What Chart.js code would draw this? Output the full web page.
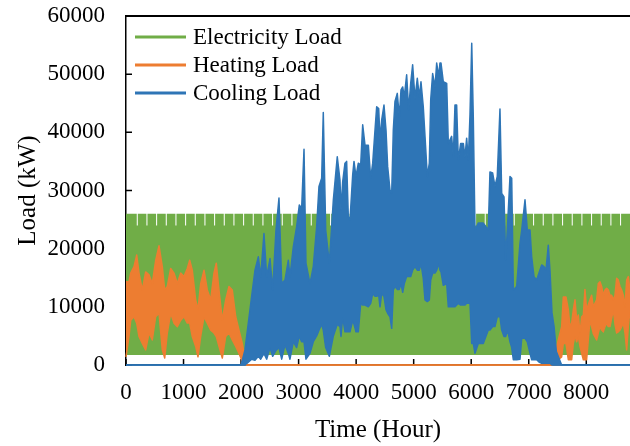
<!DOCTYPE html>
<html>
<head>
<meta charset="utf-8">
<script src="https://cdn.jsdelivr.net/npm/chart.js@4"></script>
<style>
  html, body { margin: 0; padding: 0; background: #fff; }
  #wrap { width: 630px; height: 446px; }
</style>
</head>
<body>
<div id="wrap"><canvas id="c" width="630" height="446"></canvas></div>
<script>
// Hourly building loads over one year (kW), given as daily high / low envelopes.

// Electricity: weekday peak, weekend peak, night base, and the weekend hours.
const elecPeak = 26000;
const elecWeekendPeak = 24000;
const elecBase = 1700;
const elecWeekendHours = [196, 364, 532, 700, 868, 1036, 1204, 1372, 1540, 1708, 1876, 2044, 2212,
  2380, 2548, 2716, 2884, 3052, 3220, 3388, 3556, 3724, 3892, 4060, 4228, 4396, 4564, 4732, 4900,
  5068, 5236, 5404, 5572, 5740, 5908, 6076, 6244, 6412, 6580, 6748, 6916, 7084, 7252, 7420, 7588,
  7756, 7924, 8092, 8260, 8428, 8596];

// Heating load
const heatHours = [0, 52, 82, 139, 186, 226, 283, 342, 400, 457, 516, 574, 631, 673, 718, 777, 834,
  892, 951, 1008, 1065, 1107, 1152, 1211, 1251, 1298, 1356, 1413, 1472, 1529, 1569, 1616, 1674, 1733,
  1790, 1847, 1907, 1964, 2021, 2063, 2100, 7404, 7572, 7601, 7647, 7688, 7717, 7746, 7775, 7804,
  7833, 7862, 7891, 7920, 7949, 7977, 8006, 8064, 8093, 8122, 8180, 8209, 8238, 8267, 8296, 8325,
  8354, 8383, 8412, 8441, 8470, 8499, 8528, 8557, 8586, 8615, 8644, 8673, 8702, 8731, 8760];
const heatHigh = [14300, 14300, 15800, 16900, 18900, 15800, 12900, 16000, 15500, 14000, 18000, 20500,
  16900, 12900, 13500, 16600, 15800, 14000, 15800, 15200, 16600, 18000, 16300, 11200, 9500, 14000,
  16300, 12900, 11200, 15800, 17500, 12900, 7700, 11200, 13500, 12900, 8300, 6000, 3700, 1400, 0, 0,
  6600, 11700, 11700, 9500, 6600, 7200, 9500, 11200, 7700, 8600, 5400, 8300, 8600, 13000, 9500,
  11200, 12000, 10000, 11200, 14000, 14300, 13500, 12000, 12900, 13200, 12900, 12000, 12000, 11200,
  12000, 14900, 14600, 13500, 12900, 12000, 10000, 14600, 15200, 12900];
const heatLow = [1400, 4900, 7700, 8300, 7200, 4900, 3700, 2600, 5500, 4300, 8300, 8900, 2600, 1200,
  5500, 8900, 7200, 6600, 7700, 8300, 7200, 7200, 4900, 3200, 1400, 4900, 8300, 7200, 6000, 5500,
  4900, 3200, 1200, 4900, 5500, 4300, 3200, 2000, 600, 300, 0, 0,
  1400, 3700, 3700, 900, 900, 900, 3700, 5000, 4000, 5000, 3200, 2000, 900, 900, 900, 7700, 6600,
  5400, 4300, 5500, 6600, 6000, 5700, 6600, 7200, 6600, 6600, 8000, 9500, 7000, 5500, 5700, 6000,
  6600, 7200, 5500, 2600, 6600, 9500];

// Cooling load
const coolHours = [0, 2000, 2068, 2126, 2184, 2242, 2300, 2341, 2398, 2445, 2503, 2549, 2607, 2659,
  2706, 2763, 2821, 2850, 2908, 2966, 3012, 3053, 3094, 3128, 3198, 3255, 3314, 3354, 3401, 3429,
  3471, 3534, 3604, 3672, 3719, 3737, 3766, 3806, 3835, 3864, 3893, 3940, 3963, 3997, 4038, 4079,
  4114, 4154, 4212, 4253, 4288, 4328, 4357, 4392, 4415, 4444, 4484, 4519, 4548, 4588, 4618, 4646,
  4675, 4715, 4750, 4780, 4809, 4837, 4878, 4913, 4948, 4982, 5023, 5063, 5098, 5127, 5167, 5197,
  5237, 5272, 5296, 5330, 5371, 5400, 5435, 5457, 5475, 5515, 5574, 5602, 5660, 5689, 5718, 5747,
  5776, 5817, 5863, 5892, 5921, 5950, 5979, 6009, 6036, 6066, 6123, 6210, 6297, 6326, 6373, 6413,
  6453, 6500, 6530, 6570, 6599, 6634, 6674, 6704, 6732, 6790, 6848, 6878, 6935, 6975, 7022, 7051,
  7091, 7138, 7178, 7225, 7265, 7300, 7340, 7369, 7404, 7440, 7480, 7572, 8760];
const coolHigh = [0, 0, 2600, 7200, 11800, 16300, 18600, 15200, 22600, 15200, 18300, 12900, 23200,
  28700, 14000, 14600, 18000, 15200, 20300, 23800, 27500, 26900, 37100, 17500, 14000, 16900, 23800,
  30700, 32100, 43400, 23200, 17500, 28400, 35800, 31800, 26600, 31500, 34700, 35000, 25500, 24900,
  32700, 35000, 32400, 34700, 34400, 41300, 37800, 37800, 32100, 34700, 40400, 44400, 44100, 38700,
  42100, 44700, 40400, 34100, 30100, 29500, 40400, 45300, 46700, 42700, 47300, 47800, 46100, 49900,
  43800, 48400, 51600, 45800, 49300, 46100, 48700, 44400, 39300, 32400, 34700, 45600, 50100, 47800,
  51900, 49600, 51900, 51900, 48700, 48400, 38100, 39300, 35800, 44700, 44700, 35200, 38100, 38100,
  35800, 39000, 35200, 43000, 55300, 42700, 23200, 24400, 24400, 23200, 33200, 33000, 30700, 32400,
  44000, 29500, 28900, 18000, 24400, 32400, 32100, 12900, 13500, 20900, 23200, 28400, 23200, 23200,
  18600, 15200, 14600, 15800, 17200, 16900, 16300, 20600, 16300, 9000, 6600, 2300, 0, 0];
const coolLow = [0, 0, 0, 500, 1000, 800, 1500, 1000, 2000, 1000, 3000, 1500, 2500, 3000, 1000, 3500,
  2000, 1000, 4000, 3000, 5000, 4000, 4000, 1000, 2000, 4000, 5000, 6000, 7000, 6000, 3000, 1500,
  5000, 7000, 6600, 4900, 8300, 5700, 5700, 5700, 5700, 7700, 7000, 5700, 5700, 10600, 10300, 10300,
  10000, 10600, 12300, 11800, 11800, 12000, 10000, 12300, 11800, 9500, 8900, 8300, 6300, 12900, 13500,
  13000, 13000, 14000, 12500, 14000, 15200, 15200, 15200, 16300, 16900, 16300, 16300, 17500, 14900,
  11200, 10900, 11200, 14600, 15800, 15800, 16300, 17500, 16300, 16000, 13700, 14000, 10000, 10000,
  10000, 10000, 10300, 10600, 10300, 10300, 10300, 10600, 10600, 10600, 3700, 3700, 2000, 3700, 3700,
  6000, 6000, 6600, 6600, 8300, 8300, 6000, 4900, 4900, 6000, 4000, 3000, 900, 900, 1000, 4600, 4600,
  4000, 2000, 900, 900, 900, 500, 300, 300, 300, 300, 300, 0, 0, 0, 0, 0];

// Axis ticks
const xTicks = [0, 1000, 2000, 3000, 4000, 5000, 6000, 7000, 8000];
const yTicks = [0, 10000, 20000, 30000, 40000, 50000, 60000];

const GREEN = '#70AD47', ORANGE = '#ED7D31', BLUE = '#2E75B6';
const FONT = "'Liberation Serif', 'Times New Roman', serif";

// Electricity outline: flat weekday peaks with a short dip on each weekend.
const elecX = [0];
const elecY = [elecPeak];
elecWeekendHours.forEach(h => {
  elecX.push(h - 9, h - 9, h + 9, h + 9);
  elecY.push(elecPeak, elecWeekendPeak, elecWeekendPeak, elecPeak);
});
elecX.push(8760); elecY.push(elecPeak);

const pts = (xs, ys) => xs.map((x, i) => ({ x, y: ys[i] }));

function band(label, xs, hi, lo, color, order, width) {
  const common = {
    borderColor: color, backgroundColor: color, borderWidth: width,
    pointRadius: 0, tension: 0, order, borderJoinStyle: 'round', clip: 3
  };
  return [
    Object.assign({ label, data: pts(xs, hi), fill: '+1' }, common),
    Object.assign({ label: '', data: pts(xs, lo), fill: false }, common)
  ];
}

const datasets = [
  ...band('Electricity Load', elecX, elecY, elecX.map(() => elecBase), GREEN, 3, 0),
  ...band('Heating Load', heatHours, heatHigh, heatLow, ORANGE, 2, 1.5),
  ...band('Cooling Load', coolHours, coolHigh, coolLow, BLUE, 1, 1.5)
];

// Inward tick marks, top frame line, and the series key inside the plot.
const frame = {
  id: 'frame',
  beforeDatasetsDraw(chart) {
    const { ctx, chartArea: { left, bottom }, scales: { x, y } } = chart;
    ctx.save();
    ctx.strokeStyle = '#000';
    ctx.lineWidth = 1.5;
    ctx.beginPath();
    x.ticks.forEach(t => { const p = x.getPixelForValue(t.value); ctx.moveTo(p, bottom); ctx.lineTo(p, bottom - 6); });
    y.ticks.forEach(t => { const p = y.getPixelForValue(t.value); ctx.moveTo(left, p); ctx.lineTo(left + 6, p); });
    ctx.stroke();
    ctx.restore();
  },
  afterDatasetsDraw(chart) {
    const { ctx, chartArea: { left, right, top } } = chart;
    ctx.save();
    ctx.strokeStyle = '#000';
    ctx.lineWidth = 2;
    ctx.beginPath();
    ctx.moveTo(left - 1, top);
    ctx.lineTo(right, top);
    ctx.stroke();

    // key: one row per labelled series
    ctx.font = `23px ${FONT}`;
    ctx.textBaseline = 'middle';
    ctx.textAlign = 'left';
    let row = 0;
    chart.data.datasets.forEach(ds => {
      if (!ds.label) return;
      const cy = top + 21 + row * 28;
      ctx.strokeStyle = ds.borderColor;
      ctx.lineWidth = 3;
      ctx.beginPath();
      ctx.moveTo(left + 9, cy);
      ctx.lineTo(left + 60, cy);
      ctx.stroke();
      ctx.fillStyle = '#000';
      ctx.fillText(ds.label, left + 67, cy + 1);
      row++;
    });
    ctx.restore();
  }
};

const plain = v => String(v);

new Chart(document.getElementById('c'), {
  type: 'line',
  data: { datasets },
  plugins: [frame],
  options: {
    responsive: false,
    animation: false,
    devicePixelRatio: 1,
    layout: { padding: { top: 16, right: 0, left: 0, bottom: 0 } },
    plugins: {
      tooltip: { enabled: false },
      legend: { display: false }
    },
    scales: {
      x: {
        type: 'linear',
        min: 0,
        max: 8760,
        afterBuildTicks: s => { s.ticks = xTicks.map(v => ({ value: v })); },
        afterFit: s => { s.height = 81; },
        grid: { display: false, drawTicks: false },
        border: { display: true, color: '#000', width: 1.5 },
        ticks: { color: '#000', padding: 14, maxRotation: 0, callback: plain, font: { family: FONT, size: 23 } },
        title: {
          display: true, text: 'Time (Hour)', color: '#000',
          font: { family: FONT, size: 25, lineHeight: 1.2 }, padding: { top: 0, bottom: 1 }
        }
      },
      y: {
        min: 0,
        max: 60000,
        afterBuildTicks: s => { s.ticks = yTicks.map(v => ({ value: v })); },
        afterFit: s => { s.width = 126; s.paddingTop = 0; s.paddingBottom = 0; },
        grid: { display: false, drawTicks: false },
        border: { display: true, color: '#000', width: 1.5 },
        ticks: { color: '#000', padding: 21, callback: plain, font: { family: FONT, size: 23 } },
        title: {
          display: true, text: 'Load (kW)', color: '#000',
          font: { family: FONT, size: 25, lineHeight: 1.2 }, padding: { top: 13, bottom: 0 }
        }
      }
    }
  }
});
</script>
</body>
</html>
